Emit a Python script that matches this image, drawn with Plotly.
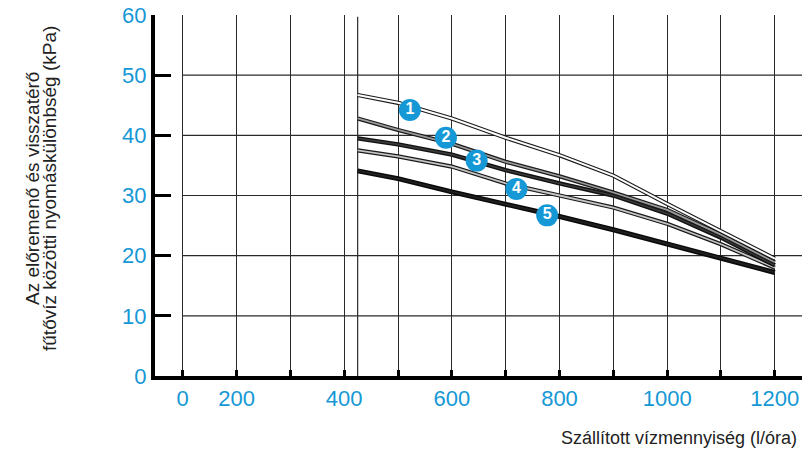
import plotly.graph_objects as go

# ---- data ----
flow = [425, 500, 600, 700, 800, 900, 1000, 1100, 1200]
curve1 = [46.7, 45.4, 42.8, 39.6, 36.7, 33.3, 28.6, 24.0, 19.5]
curve2 = [42.8, 40.9, 38.6, 35.6, 33.2, 30.5, 27.6, 23.5, 18.9]
curve3 = [39.5, 38.5, 36.8, 34.2, 32.0, 30.0, 27.0, 23.0, 18.4]
curve4 = [37.5, 36.5, 34.8, 32.0, 30.0, 28.0, 25.3, 21.9, 18.0]
curve5 = [34.1, 32.8, 30.6, 28.6, 26.5, 24.3, 22.0, 19.6, 17.2]

label_names = ["1", "2", "3", "4", "5"]
label_x = [522, 589, 646, 720, 777]
label_y = [44.2, 39.6, 35.8, 31.1, 26.7]

x_tickvals = [100, 200, 300, 400, 500, 600, 700, 800, 900, 1000, 1100, 1200]
x_ticktext = ["0", "200", "", "400", "", "600", "", "800", "", "1000", "", "1200"]
y_tickvals = [0, 10, 20, 30, 40, 50, 60]
start_line = 425

y_title_lines = ["Az előremenő és visszatérő", "fűtővíz közötti nyomáskülönbség (kPa)"]
x_title = "Szállított vízmennyiség (l/óra)"

BLUE = "#1598d5"
FONT = "Liberation Sans, Arial, sans-serif"

fig = go.Figure()

# cased lines: (outer colour, outer width, inner colour, inner width)
styles = [
    ("#1a1a1a", 4.2, "#ffffff", 2.0),
    ("#1a1a1a", 4.2, "#9a9a9a", 1.8),
    ("#111111", 4.4, "#3a3a3a", 1.6),
    ("#1a1a1a", 4.2, "#c4c4c4", 1.8),
    ("#0a0a0a", 5.0, "#202020", 2.0),
]
for ys, (oc, ow, ic, iw) in zip([curve5, curve4, curve3, curve2, curve1], styles[::-1]):
    fig.add_trace(go.Scatter(x=flow, y=ys, mode="lines", line=dict(color=oc, width=ow),
                             hoverinfo="skip", showlegend=False))
    fig.add_trace(go.Scatter(x=flow, y=ys, mode="lines", line=dict(color=ic, width=iw),
                             hoverinfo="skip", showlegend=False))

fig.add_trace(go.Scatter(
    x=label_x, y=label_y, mode="markers+text", text=label_names,
    marker=dict(size=22, color=BLUE, line=dict(width=0)),
    textfont=dict(color="white", size=16, family="Liberation Sans, Arial", weight="bold"),
    textposition="middle center", showlegend=False, hoverinfo="skip"))

x_min, x_max = 48.5, 1250.5

# horizontal grid lines start at the first vertical grid line
for yv in y_tickvals[1:-1]:
    fig.add_shape(type="line", xref="x", yref="y", x0=x_tickvals[0], x1=x_max, y0=yv, y1=yv,
                  line=dict(color="#2a2a2a", width=1.2), layer="below")
# extra vertical line where the curves start
fig.add_shape(type="line", xref="x", yref="paper", x0=start_line, x1=start_line, y0=0, y1=0.995,
              line=dict(color="#2a2a2a", width=1.2), layer="below")

annotations = []
for xp, txt in zip([-0.1886, -0.1623], y_title_lines):
    annotations.append(dict(text=txt, xref="paper", yref="paper", x=xp, y=0.5208,
                            textangle=-90, showarrow=False, xanchor="center", yanchor="middle",
                            font=dict(size=19, color="#222222", family=FONT)))
annotations.append(dict(text=x_title, xref="paper", yref="paper",
                        x=0.9954, y=-0.1717, xanchor="right", yanchor="middle", showarrow=False,
                        font=dict(size=18, color="#222222", family=FONT)))

fig.update_layout(
    width=812, height=454,
    margin=dict(l=155, r=10, t=15, b=78),
    paper_bgcolor="white", plot_bgcolor="white",
    font=dict(family=FONT),
    xaxis=dict(range=[x_min, x_max], tickvals=x_tickvals, ticktext=x_ticktext,
               showgrid=True, gridcolor="#2a2a2a", gridwidth=1.2,
               ticks="inside", ticklen=6, tickwidth=3, tickcolor="black",
               showline=True, linecolor="black", linewidth=4, automargin=False,
               ticklabeloverflow="allow",
               tickfont=dict(color=BLUE, size=22, family=FONT), zeroline=False),
    yaxis=dict(range=[0, 60], tickvals=y_tickvals, showgrid=False,
               ticks="inside", ticklen=16, tickwidth=3, tickcolor="black",
               showline=True, linecolor="black", linewidth=4, automargin=False,
               ticklabeloverflow="allow",
               tickfont=dict(color=BLUE, size=22, family=FONT), zeroline=False),
    annotations=annotations,
)

fig.write_html("out.html", config=dict(displayModeBar=False),
               post_script="document.body.style.margin='0';")
